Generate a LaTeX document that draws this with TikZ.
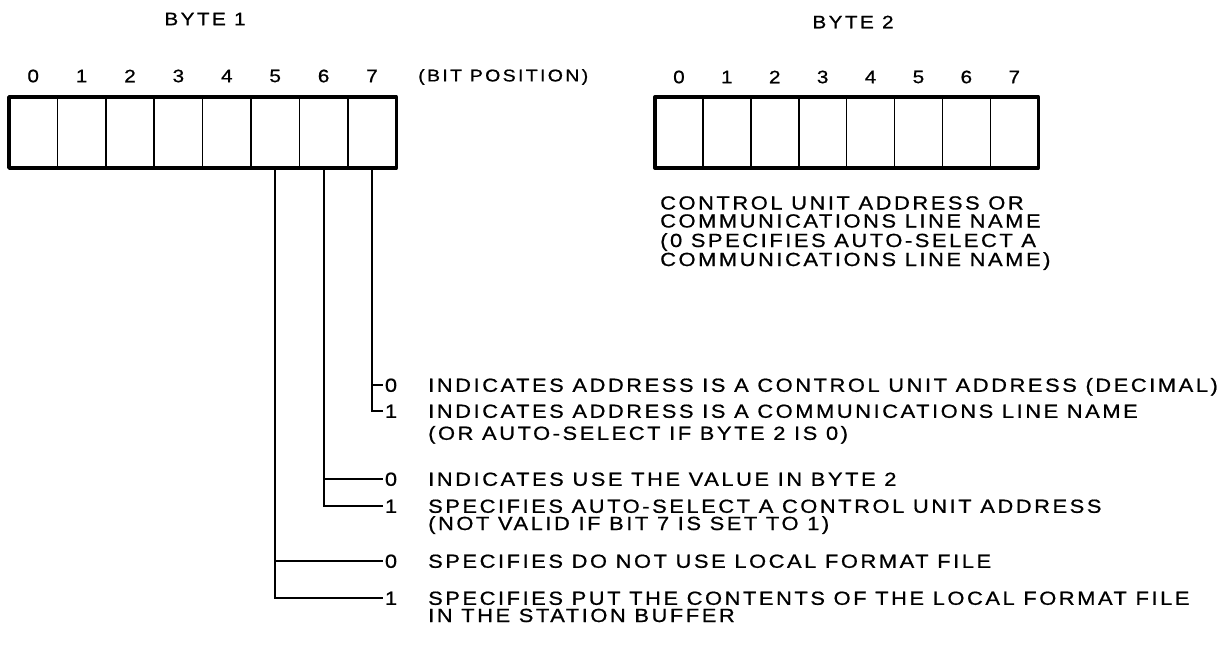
\documentclass[tikz,border=0pt]{standalone}
\usepackage{fontspec}
\setmainfont{Liberation Sans}[FakeStretch=1.15, LetterSpace=13.6, FakeBold=0.8]
\begin{document}
\begin{tikzpicture}[x=1pt,y=-1pt,
  cell/.style={draw, line width=1.6pt, minimum width=48.4pt, minimum height=71pt, inner sep=0pt, outer sep=0pt, anchor=north west},
  cellb/.style={cell, minimum width=47.9pt},
  outer/.style={line width=3.4pt, line join=round},
  bitnum/.style={font=\fontsize{18}{18}\selectfont, inner sep=0pt},
  ttl/.style={font=\fontsize{18}{18}\selectfont, inner sep=0pt},
  txt/.style={font=\fontsize{19}{19}\selectfont, inner sep=0pt, anchor=base west},
  val/.style={font=\fontsize{19}{19}\selectfont, inner sep=2pt, anchor=base},
  conn/.style={line width=1.8pt}]
\useasboundingbox (0,0) rectangle (1222,654);

% titles
\node[ttl] (t1) at (205,19) {BYTE 1};
\node[ttl] (t2) at (853,22) {BYTE 2};
\node[ttl, anchor=west, font=\fontsize{17}{17}\selectfont] (bp) at (418,77) {(BIT POSITION)};

% byte 1
\foreach \i in {0,...,7} {
  \node[cell] (a\i) at ({9+48.4*\i},97) {};
  \node[bitnum] (na\i) at ({9+48.4*(\i+0.5)},76) {\i};
}
\draw[outer] (a0.north west) rectangle (a7.south east);

% byte 2
\foreach \i in {0,...,7} {
  \node[cellb] (b\i) at ({655+47.9*\i},97) {};
  \node[bitnum] (nb\i) at ({655+47.9*(\i+0.5)},77) {\i};
}
\draw[outer] (b0.north west) rectangle (b7.south east);

% byte 2 description
\node[txt] (c1) at (660,209.5) {CONTROL UNIT ADDRESS OR};
\node[txt] (c2) at (660,227.5) {COMMUNICATIONS LINE NAME};
\node[txt] (c3) at (660,247) {(0 SPECIFIES AUTO-SELECT A};
\node[txt] (c4) at (660,266) {COMMUNICATIONS LINE NAME)};

% bit value labels
\node[val] (z7) at (391,391.8) {0};
\node[val] (o7) at (391,417.8) {1};
\node[val] (z6) at (391,485.8) {0};
\node[val] (o6) at (391,512.8) {1};
\node[val] (z5) at (391,567.8) {0};
\node[val] (o5) at (391,604.8) {1};

% descriptions
\node[txt] (l1) at (428,391.8) {INDICATES ADDRESS IS A CONTROL UNIT ADDRESS (DECIMAL)};
\node[txt] (l2) at (428,417.8) {INDICATES ADDRESS IS A COMMUNICATIONS LINE NAME};
\node[txt] (l3) at (428,439.8) {(OR AUTO-SELECT IF BYTE 2 IS 0)};
\node[txt] (l4) at (428,485.8) {INDICATES USE THE VALUE IN BYTE 2};
\node[txt] (l5) at (428,512.8) {SPECIFIES AUTO-SELECT A CONTROL UNIT ADDRESS};
\node[txt] (l6) at (428,530) {(NOT VALID IF BIT 7 IS SET TO 1)};
\node[txt] (l7) at (428,567.8) {SPECIFIES DO NOT USE LOCAL FORMAT FILE};
\node[txt] (l8) at (428,604.8) {SPECIFIES PUT THE CONTENTS OF THE LOCAL FORMAT FILE};
\node[txt] (l9) at (428,622) {IN THE STATION BUFFER};

% connectors
\draw[conn] (a7.south) |- (o7.west);
\draw[conn] (z7.west) -- (z7.west -| a7.south);
\draw[conn] (a6.south) |- (o6.west);
\draw[conn] (z6.west) -- (z6.west -| a6.south);
\draw[conn] (a5.south) |- (o5.west);
\draw[conn] (z5.west) -- (z5.west -| a5.south);
\end{tikzpicture}
\end{document}
